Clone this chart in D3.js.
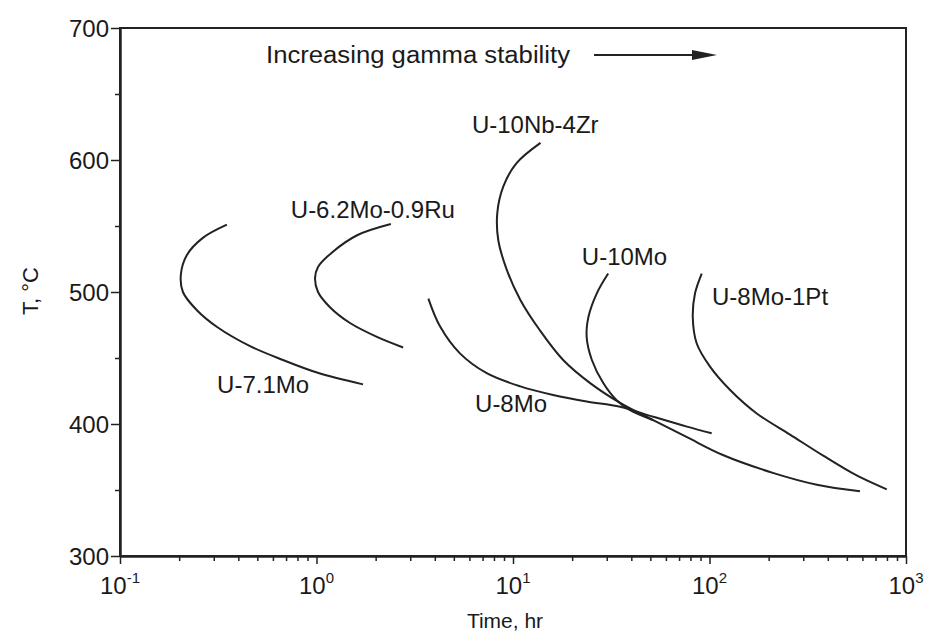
<!DOCTYPE html>
<meta charset="utf-8" />
<script src="https://d3js.org/d3.v7.js"></script>
<style>
  body { margin: 0; background: #fff; }
  text { font-family: "Liberation Sans", Arial, sans-serif; fill: #1a1a1a; }
</style>
<div id="chart"></div>
<script>
  // time (hr) / temperature (C) pairs
  const u71Mo_t = [0.35, 0.264, 0.219, 0.204, 0.209, 0.247, 0.312, 0.459, 0.675, 1.006, 1.725];
  const u71Mo_T = [551, 541, 528, 513, 500, 486, 473.5, 459, 448.5, 439, 430];

  const u62Mo09Ru_t = [2.39, 1.61, 1.2, 1.018, 0.983, 1.018, 1.171, 1.481, 2.03, 2.76];
  const u62Mo09Ru_T = [551.5, 543, 530, 519, 510.5, 500, 488.5, 476.5, 466, 458];

  const u10Nb4Zr_t = [13.8, 10.4, 8.93, 8.32, 8.42, 9.29, 10.9, 13.7, 18.0, 24.7, 35.1, 51.6, 76.8, 117, 210, 352, 583];
  const u10Nb4Zr_T = [613, 597.5, 580, 560, 539, 517, 494, 471, 448.5, 431, 416, 403, 390, 376.5, 363, 354, 349];

  const u10Mo_t = [30.5, 26.7, 24.2, 23.7, 25.2, 28.8, 33.7, 39.4, 51.6];
  const u10Mo_T = [514, 499, 481, 466, 448.5, 431, 418, 410.5, 403];

  const u8Mo_t = [3.71, 4.25, 5.37, 7.35, 10.9, 16.0, 23.7, 35.1, 51.7, 76.8, 102.6];
  const u8Mo_T = [495, 474, 453.5, 438.5, 428.5, 422, 417, 413, 405.5, 398, 393];

  const u8Mo1Pt_t = [91.3, 84.4, 82.2, 86.1, 100.6, 127, 174, 257, 379, 561, 798];
  const u8Mo1Pt_T = [514, 499, 481, 461, 443.5, 426, 408, 392, 376, 361, 350.5];

  const seriesNames = ["U-7.1Mo", "U-6.2Mo-0.9Ru", "U-10Nb-4Zr", "U-10Mo", "U-8Mo", "U-8Mo-1Pt"];
  const seriesTimes = [u71Mo_t, u62Mo09Ru_t, u10Nb4Zr_t, u10Mo_t, u8Mo_t, u8Mo1Pt_t];
  const seriesTemps = [u71Mo_T, u62Mo09Ru_T, u10Nb4Zr_T, u10Mo_T, u8Mo_T, u8Mo1Pt_T];

  // label anchor (time, temperature) of each curve name
  const labelTimes = [0.312, 0.74, 6.18, 22.4, 6.41, 103];
  const labelTemps = [423.5, 556, 620.5, 520.5, 409, 490];

  const xMajor = [0.1, 1, 10, 100, 1000];
  const xExp = ["-1", "0", "1", "2", "3"];
  const yMajor = [300, 400, 500, 600, 700];
  const yMinor = [350, 450, 550, 650];

  const width = 934;
  const height = 637;
  const mLeft = 120, mRight = 906, mTop = 28, mBottom = 556;

  const svg = d3
    .select("#chart")
    .append("svg")
    .attr("width", width)
    .attr("height", height);

  const x = d3.scaleLog().domain([0.1, 1000]).range([mLeft, mRight]);
  const y = d3.scaleLinear().domain([300, 700]).range([mBottom, mTop]);

  // minor log ticks 2..9 in each decade
  var xMinor = [];
  xMajor.slice(0, -1).forEach(function (d) {
    for (let k = 2; k <= 9; k++) xMinor.push(d * k);
  });

  // frame (top and right)
  svg
    .append("rect")
    .attr("x", mLeft)
    .attr("y", mTop)
    .attr("width", mRight - mLeft)
    .attr("height", mBottom - mTop)
    .attr("fill", "none")
    .attr("stroke", "#222")
    .attr("stroke-width", 2);

  svg
    .append("g")
    .attr("transform", `translate(0,${mBottom})`)
    .call(d3.axisBottom(x).tickValues(xMajor).tickSize(8).tickSizeOuter(0).tickFormat(""));
  svg
    .append("g")
    .attr("transform", `translate(0,${mBottom})`)
    .call(d3.axisBottom(x).tickValues(xMinor).tickSize(5).tickSizeOuter(0).tickFormat(""));

  const yAxis = svg
    .append("g")
    .attr("transform", `translate(${mLeft},0)`)
    .call(d3.axisLeft(y).tickValues(yMajor).tickSize(9).tickSizeOuter(0).tickPadding(2));
  svg
    .append("g")
    .attr("transform", `translate(${mLeft},0)`)
    .call(d3.axisLeft(y).tickValues(yMinor).tickSize(5).tickSizeOuter(0).tickFormat(""));

  svg.selectAll(".domain").attr("stroke", "#222").attr("stroke-width", 2);
  svg.selectAll(".tick line").attr("stroke", "#222").attr("stroke-width", 1.5);
  yAxis
    .selectAll("text")
    .style("font-family", '"Liberation Sans", Arial, sans-serif')
    .style("font-size", "24px")
    .attr("fill", "#1a1a1a")
    .attr("dy", "0.36em");

  // x tick labels as 10^n
  var xLab = svg
    .append("g")
    .selectAll("text")
    .data(xMajor)
    .enter()
    .append("text")
    .attr("x", (d) => x(d))
    .attr("y", 594)
    .attr("text-anchor", "middle")
    .style("font-size", "24px");
  xLab.append("tspan").text("10");
  xLab
    .append("tspan")
    .attr("dy", -11)
    .style("font-size", "15px")
    .text((d, i) => xExp[i]);

  // axis titles
  svg
    .append("text")
    .attr("x", 505)
    .attr("y", 628)
    .attr("text-anchor", "middle")
    .style("font-size", "21px")
    .text("Time, hr");

  svg
    .append("text")
    .attr("transform", "translate(38,291) rotate(-90)")
    .attr("text-anchor", "middle")
    .style("font-size", "22px")
    .text("T, °C");

  // curves
  const line = d3
    .line()
    .x((d) => x(d[0]))
    .y((d) => y(d[1]))
    .curve(d3.curveCatmullRom.alpha(0.5));

  seriesNames.forEach(function (name, i) {
    var pts = seriesTimes[i].map((t, j) => [t, seriesTemps[i][j]]);
    svg
      .append("path")
      .datum(pts)
      .attr("d", line)
      .attr("fill", "none")
      .attr("stroke", "#222")
      .attr("stroke-width", 2);
  });

  svg
    .append("g")
    .selectAll("text")
    .data(seriesNames)
    .enter()
    .append("text")
    .attr("x", (d, i) => x(labelTimes[i]))
    .attr("y", (d, i) => y(labelTemps[i]))
    .style("font-size", "24px")
    .text((d) => d);

  // annotation with arrow
  svg
    .append("text")
    .attr("x", 266)
    .attr("y", 63)
    .attr("textLength", 304)
    .attr("lengthAdjust", "spacingAndGlyphs")
    .style("font-size", "23px")
    .text("Increasing gamma stability");

  svg
    .append("line")
    .attr("x1", 594)
    .attr("x2", 700)
    .attr("y1", 55)
    .attr("y2", 55)
    .attr("stroke", "#222")
    .attr("stroke-width", 2);

  svg
    .append("path")
    .attr("d", "M692,50 L717,55 L692,60 Z")
    .attr("fill", "#222");
</script>
